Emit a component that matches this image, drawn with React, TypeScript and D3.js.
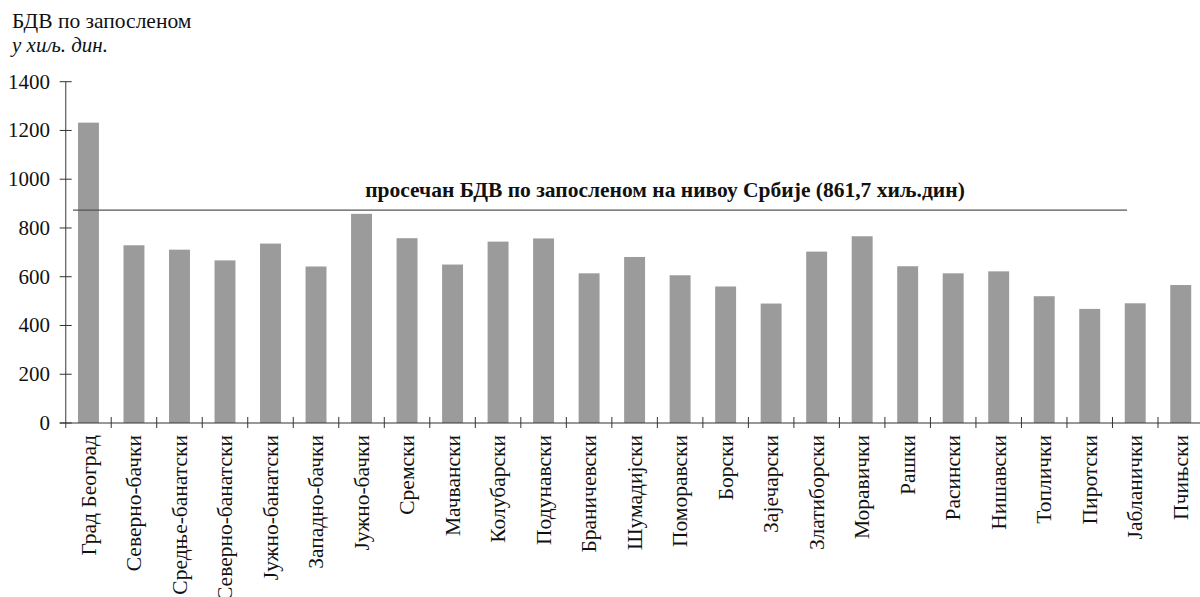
import React, { useEffect, useRef } from "react";
import * as d3 from "d3";

const categories = [
  "Град Београд", "Северно-бачки", "Средње-банатски", "Северно-банатски",
  "Јужно-банатски", "Западно-бачки", "Јужно-бачки", "Сремски", "Мачвански",
  "Колубарски", "Подунавски", "Браничевски", "Шумадијски", "Поморавски",
  "Борски", "Зајечарски", "Златиборски", "Моравички", "Рашки", "Расински",
  "Нишавски", "Топлички", "Пиротски", "Јабланички", "Пчињски",
];
const values = [
  1232, 729, 711, 667, 736, 642, 858, 758, 650,
  744, 757, 614, 681, 606, 560, 490, 703, 766, 643, 614,
  622, 520, 468, 491, 566,
];
const yTicks = [0, 200, 400, 600, 800, 1000, 1200, 1400];
const avgLineValue = 873;
const avgLabel = "просечан БДВ по запосленом на нивоу Србије (861,7 хиљ.дин)";
const titleLine1 = "БДВ по запосленом";
const titleLine2 = "у хиљ. дин.";

const W = 1200;
const H = 597;
const FONT = "'Liberation Serif', 'Times New Roman', serif";

export default function App() {
  const ref = useRef<SVGSVGElement | null>(null);

  useEffect(() => {
    const svg = d3.select(ref.current);
    svg.selectAll("*").remove();

    const left = 65.7;
    const right = 1203.5;
    const top = 81.7;
    const bottom = 423;

    const x = d3.scaleBand<string>().domain(categories).range([left, right]).paddingInner(0.54).paddingOuter(0.27);
    const step = (right - left) / categories.length;
    const y = d3.scaleLinear().domain([0, 1400]).range([bottom, top]);

    // titles
    svg.append("text").attr("x", 12).attr("y", 28).attr("font-family", FONT).attr("font-size", 21.5).attr("fill", "#111").text(titleLine1);
    svg.append("text").attr("x", 12).attr("y", 52).attr("font-family", FONT).attr("font-size", 21).attr("font-style", "italic").attr("fill", "#111").text(titleLine2);

    // bars
    svg.append("g").selectAll("rect").data(values).join("rect")
      .attr("x", (_, i) => x(categories[i])!)
      .attr("width", x.bandwidth())
      .attr("y", (d) => y(d))
      .attr("height", (d) => y(0) - y(d))
      .attr("fill", "#9b9b9b");

    // y axis
    const gy = svg.append("g");
    gy.append("line").attr("x1", left).attr("x2", left).attr("y1", top).attr("y2", bottom + 5).attr("stroke", "#666").attr("stroke-width", 1.3);
    gy.selectAll("line.t").data(yTicks).join("line").attr("class", "t")
      .attr("x1", left - 6).attr("x2", left + 6)
      .attr("y1", (d) => y(d)).attr("y2", (d) => y(d))
      .attr("stroke", "#333").attr("stroke-width", 1);
    gy.selectAll("text").data(yTicks).join("text")
      .attr("x", 50).attr("y", (d) => y(d)).attr("dy", "0.33em")
      .attr("text-anchor", "end").attr("font-family", FONT).attr("font-size", 21).attr("fill", "#111")
      .text((d) => String(d));

    // x axis
    const gx = svg.append("g");
    gx.append("line").attr("x1", left - 6).attr("x2", right).attr("y1", bottom).attr("y2", bottom).attr("stroke", "#333").attr("stroke-width", 1);
    const bounds = d3.range(1, categories.length + 1).map((i) => left + i * step);
    gx.selectAll("line.t").data(bounds).join("line").attr("class", "t")
      .attr("x1", (d) => d).attr("x2", (d) => d)
      .attr("y1", bottom - 6).attr("y2", bottom + 5)
      .attr("stroke", "#333").attr("stroke-width", 1);
    gx.selectAll("text").data(categories).join("text")
      .attr("transform", (d) => `translate(${x(d)! + x.bandwidth() / 2},${bottom + 12}) rotate(-90)`)
      .attr("dy", "0.33em")
      .attr("text-anchor", "end").attr("font-family", FONT).attr("font-size", 21.5).attr("fill", "#111")
      .text((d) => d);

    // average line
    const c0 = x(categories[0])! + x.bandwidth() / 2;
    const lx = (idx: number) => c0 + idx * step;
    svg.append("line")
      .attr("x1", lx(-0.34)).attr("x2", lx(22.82))
      .attr("y1", y(avgLineValue)).attr("y2", y(avgLineValue))
      .attr("stroke", "#555").attr("stroke-width", 1.3);
    svg.append("text")
      .attr("x", 665).attr("y", 197)
      .attr("text-anchor", "middle").attr("font-family", FONT).attr("font-size", 21.5).attr("font-weight", "bold").attr("fill", "#111")
      .text(avgLabel);
  }, []);

  return (
    <svg ref={ref} width={W} height={H} style={{ position: "absolute", left: 0, top: 0, background: "#fff" }} />
  );
}
